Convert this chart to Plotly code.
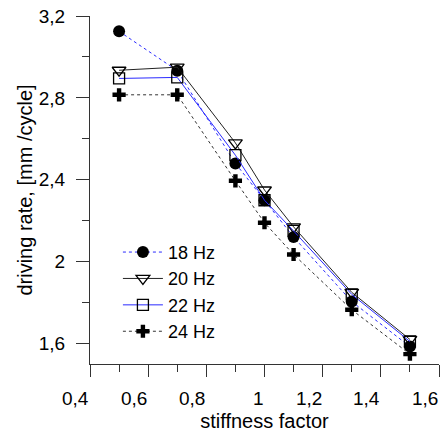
import plotly.graph_objects as go

stiffness = [0.5, 0.7, 0.9, 1.0, 1.1, 1.3, 1.5]
rate_18hz = [3.125, 2.933, 2.48, 2.30, 2.12, 1.805, 1.585]
rate_20hz = [2.935, 2.95, 2.58, 2.35, 2.17, 1.85, 1.62]
rate_22hz = [2.895, 2.90, 2.52, 2.30, 2.15, 1.84, 1.61]
rate_24hz = [2.815, 2.815, 2.395, 2.19, 2.035, 1.765, 1.548]
series_names = ["18 Hz", "20 Hz", "22 Hz", "24 Hz"]

x_tick_vals = [0.4, 0.6, 0.8, 1.0, 1.2, 1.4, 1.6]
x_tick_text = ["0,4", "0,6", "0,8", "1", "1,2", "1,4", "1,6"]

FONT = "Liberation Sans, Arial, sans-serif"
BLUE = "#2a2aff"

fig = go.Figure()
fig.add_trace(go.Scatter(
    x=stiffness, y=rate_18hz, name=series_names[0], mode="lines+markers",
    line=dict(color=BLUE, width=1, dash="dot"),
    marker=dict(symbol="circle", size=12, color="black", line=dict(width=0))))
fig.add_trace(go.Scatter(
    x=stiffness, y=rate_20hz, name=series_names[1], mode="lines+markers",
    line=dict(color="#222222", width=1),
    marker=dict(symbol="triangle-down-open", size=12, color="black", line=dict(width=1.3))))
fig.add_trace(go.Scatter(
    x=stiffness, y=rate_22hz, name=series_names[2], mode="lines+markers",
    line=dict(color=BLUE, width=1),
    marker=dict(symbol="square-open", size=11, color="black", line=dict(width=1.3))))
fig.add_trace(go.Scatter(
    x=stiffness, y=rate_24hz, name=series_names[3], mode="lines+markers",
    line=dict(color="#333333", width=1, dash="dot"),
    marker=dict(symbol="cross", size=11, color="black", line=dict(width=0))))

for v, t in zip(x_tick_vals, x_tick_text):
    fig.add_annotation(x=v, y=0, xref="x", yref="paper", text=t, showarrow=False,
                       xanchor="right", yanchor="top", xshift=1, yshift=-22,
                       font=dict(family=FONT, size=19, color="black"))

fig.update_layout(
    width=440, height=433,
    margin=dict(l=90, r=1, t=16, b=69),
    paper_bgcolor="white", plot_bgcolor="white",
    separators=", ",
    font=dict(family=FONT, size=18, color="black"),
    showlegend=True,
    legend=dict(x=0.08, y=0.374, xanchor="left", yanchor="top",
                bgcolor="rgba(0,0,0,0)", font=dict(family=FONT, size=18, color="black"),
                itemwidth=40, tracegroupgap=0),
    xaxis=dict(range=[0.4, 1.6], showline=True, linecolor="#333333", linewidth=1,
               showgrid=False, zeroline=False, ticks="outside", ticklen=12,
               tickcolor="#333333", tickwidth=1, tickvals=x_tick_vals,
               showticklabels=False,
               minor=dict(dtick=0.1, tick0=0.4, ticks="outside", ticklen=7,
                          tickcolor="#333333", tickwidth=1),
               title=dict(text="stiffness factor", standoff=37,
                          font=dict(family=FONT, size=20)),
               automargin=False),
    yaxis=dict(range=[1.5, 3.2], showline=True, linecolor="#333333", linewidth=1,
               showgrid=False, zeroline=False, ticks="outside", ticklen=13,
               tickcolor="#333333", tickwidth=1, tick0=1.6, dtick=0.4,
               ticklabelstandoff=7,
               minor=dict(dtick=0.2, tick0=1.6, ticks="outside", ticklen=7,
                          tickcolor="#333333", tickwidth=1),
               tickfont=dict(family=FONT, size=19),
               title=dict(text="driving rate, [mm /cycle]", standoff=0,
                          font=dict(family=FONT, size=20)),
               automargin=False),
)

fig.write_html("out.html", config={"displayModeBar": False},
               post_script="document.body.style.margin='0';")
